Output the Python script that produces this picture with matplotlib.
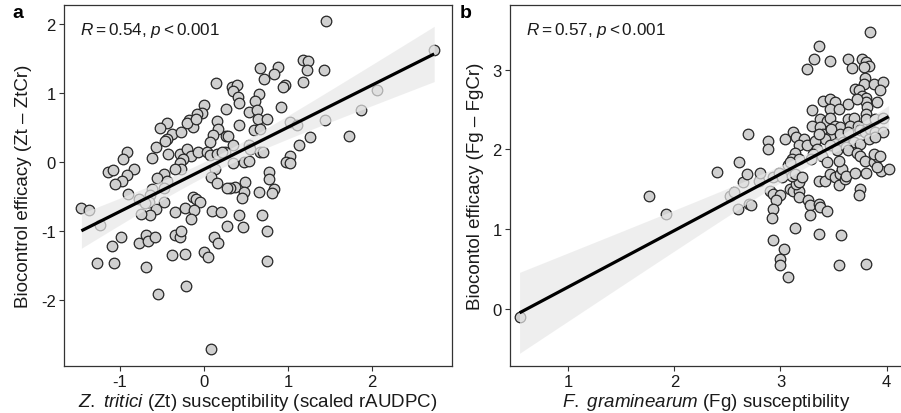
import numpy as np
import matplotlib
matplotlib.use("Agg")
import matplotlib.pyplot as plt

plt.rcParams["font.family"] = ["Liberation Sans", "DejaVu Sans"]
plt.rcParams["mathtext.fontset"] = "custom"
plt.rcParams["mathtext.rm"] = "Liberation Sans"
plt.rcParams["mathtext.it"] = "Liberation Sans:italic"
plt.rcParams["axes.unicode_minus"] = False

# Panel a: Z. tritici susceptibility vs biocontrol efficacy
zt_susc = [1.45, 2.74, 1.18, 1.24, 1.23, 1.43, 0.67, 0.88, 0.83, 0.71,
           0.14, 0.33, 0.39, 0.35, 1.18, 0.96, 0.94, 0.65, 0.41, 0.42,
           0.61, 2.06, 0.92, 0.26, 0.53, 0.63, 0.00, -0.02, -0.08, 1.87,
           -0.18, -0.13, -0.20, -0.09, 0.42, 0.64, 0.75, 0.15, 0.17, 0.59,
           0.67, 1.02, 1.11, 1.44, -0.44, -0.52, -0.38, -0.27, -0.44, -0.57,
           -0.46, 0.26, 0.11, 0.07, 0.29, 0.34, 0.54, 0.55, 1.26, 1.72,
           1.13, -0.62, -0.43, -0.29, -0.20, -0.15, -0.25, -0.29, -0.27, -0.35,
           -0.07, 0.03, 0.07, 0.15, 0.25, 0.21, -0.92, -0.97, -0.83, -0.92,
           -0.98, -1.06, -1.14, -1.08, 0.67, 0.70, 0.34, 0.47, 0.53, 1.02,
           0.98, 1.02, 0.13, 0.08, 0.15, -0.48, -0.56, -0.44, -0.91, -0.62,
           -0.48, -0.64, -0.66, -0.78, -0.70, -0.48, -0.57, -0.64, -0.75, 0.77,
           0.77, 0.83, 0.81, 0.49, 0.37, 0.31, 0.27, 0.47, 0.45, 0.65,
           -0.35, -0.23, -0.13, -0.10, -0.05, -0.12, -0.15, 0.09, 0.20, 0.42,
           0.69, -1.46, -1.37, -1.24, 0.27, 0.46, 0.75, -0.99, -1.09, -0.78,
           -0.69, -0.67, -0.58, -0.35, -0.29, -0.27, 0.12, 0.17, -0.38, -0.23,
           0.00, 0.05, -1.27, -1.07, -0.69, 0.75, -0.22, -0.55, 0.08]
zt_eff = [2.04, 1.62, 1.48, 1.46, 1.33, 1.33, 1.36, 1.38, 1.27, 1.20,
          1.14, 1.08, 1.12, 1.03, 1.16, 1.11, 1.09, 0.99, 0.94, 0.85,
          0.88, 1.05, 0.80, 0.77, 0.72, 0.76, 0.83, 0.71, 0.70, 0.76,
          0.61, 0.51, 0.57, 0.63, 0.54, 0.62, 0.62, 0.59, 0.48, 0.47,
          0.48, 0.58, 0.53, 0.61, 0.57, 0.50, 0.41, 0.44, 0.34, 0.22,
          0.31, 0.38, 0.39, 0.29, 0.37, 0.24, 0.25, 0.19, 0.36, 0.38,
          0.24, 0.06, 0.12, 0.12, 0.19, 0.09, 0.05, -0.02, -0.10, -0.10,
          0.14, 0.14, 0.10, 0.12, 0.14, 0.14, 0.14, 0.04, -0.10, -0.19,
          -0.27, -0.32, -0.14, -0.12, 0.15, 0.15, -0.01, 0.00, 0.01, 0.09,
          0.00, -0.01, -0.10, -0.22, -0.31, -0.17, -0.23, -0.27, -0.46, -0.39,
          -0.38, -0.48, -0.58, -0.53, -0.60, -0.58, -0.68, -0.77, -0.76, -0.14,
          -0.24, -0.39, -0.45, -0.29, -0.36, -0.37, -0.37, -0.43, -0.52, -0.43,
          -0.72, -0.67, -0.51, -0.53, -0.58, -0.70, -0.82, -0.71, -0.73, -0.77,
          -0.77, -0.66, -0.69, -0.91, -0.93, -0.94, -1.00, -1.08, -1.22, -1.18,
          -1.06, -1.14, -1.09, -1.06, -1.09, -1.00, -1.08, -1.17, -1.35, -1.34,
          -1.31, -1.37, -1.47, -1.46, -1.52, -1.44, -1.80, -1.91, -2.71]

# Panel b: F. graminearum susceptibility vs biocontrol efficacy
fg_susc = [0.54, 1.76, 1.92, 2.40, 2.52, 2.56, 2.60, 2.61, 2.65, 2.68,
           2.69, 2.70, 2.72, 2.80, 2.81, 2.88, 2.88, 3.04,
           2.93, 2.99, 3.01, 2.90, 2.93, 3.00, 2.96, 2.93, 2.92,
           3.09, 3.12, 3.17, 3.17, 3.15, 3.17, 3.11, 3.14, 3.20,
           3.26, 3.28, 3.36, 3.37, 3.44, 3.28, 3.36, 3.42,
           3.47, 3.51, 3.56, 3.58, 3.55, 3.61, 3.62, 3.70, 3.75, 3.74,
           3.81, 3.95, 4.02,
           3.14, 2.93, 3.03, 3.00, 3.00, 3.07, 3.36, 3.57, 3.55, 3.81,
           3.84, 3.36, 3.25, 3.32, 3.47, 3.64, 3.67, 3.77, 3.81, 3.83,
           3.79, 3.80, 3.79, 3.88, 3.97, 3.94, 3.70, 3.74, 3.77, 3.81,
           3.81, 3.82, 3.81, 3.81,
           3.40, 3.47, 3.51, 3.47, 3.55, 3.64, 3.72, 3.30, 3.91, 3.89, 3.97,
           3.37, 3.44, 3.47, 3.51, 3.56, 3.64, 3.69, 3.66, 3.30, 3.37,
           3.73, 3.75, 3.80, 3.84,
           3.40, 3.47, 3.48, 3.56, 3.64, 3.89, 3.97, 3.51, 3.59, 3.69,
           3.75, 3.83, 3.89, 3.42, 3.47, 3.53,
           3.12, 3.15, 3.22, 3.17, 3.25, 3.33, 3.36, 3.34, 3.31, 3.39,
           3.62, 3.64, 3.72, 3.75, 3.80, 3.88, 3.92, 3.91,
           3.14, 3.11, 3.17, 3.29, 3.44, 3.55, 3.88, 3.94, 3.07, 3.09]
fg_eff = [-0.10, 1.41, 1.19, 1.72, 1.41, 1.47, 1.25, 1.84, 1.59, 1.69,
          2.19, 1.32, 1.30, 1.61, 1.70, 2.10, 2.01, 2.13,
          1.65, 1.71, 1.65, 1.48, 1.44, 1.43, 1.36, 1.25, 1.14,
          1.50, 1.48, 1.48, 1.40, 1.57, 1.59, 1.67, 1.69, 1.66,
          1.36, 1.30, 1.32, 1.28, 1.23, 1.18, 1.61, 1.61,
          1.69, 1.66, 1.69, 1.76, 1.55, 1.63, 1.67, 1.71, 1.51, 1.43,
          1.71, 1.73, 1.76,
          1.02, 0.87, 0.75, 0.63, 0.55, 0.40, 0.94, 0.93, 0.55, 0.56,
          3.47, 3.30, 3.01, 3.14, 3.11, 3.14, 3.02, 3.13, 3.10, 3.05,
          3.03, 2.90, 2.82, 2.82, 2.84, 2.74, 2.76, 2.75, 2.67, 2.64,
          2.59, 2.53, 2.45, 2.38,
          2.61, 2.63, 2.60, 2.51, 2.51, 2.57, 2.63, 2.50, 2.59, 2.38, 2.40,
          2.38, 2.36, 2.40, 2.30, 2.28, 2.38, 2.40, 2.30, 2.30, 2.28,
          2.30, 2.24, 2.22, 2.26,
          2.19, 2.17, 2.26, 2.19, 2.22, 2.22, 2.22, 2.07, 2.09, 2.09,
          2.07, 2.13, 2.15, 2.13, 2.05, 1.99,
          2.22, 2.15, 2.13, 2.06, 2.06, 2.11, 2.19, 2.01, 1.94, 1.92,
          2.03, 1.99, 1.96, 1.92, 1.86, 1.84, 1.90, 1.78,
          1.96, 1.88, 1.88, 1.88, 1.84, 1.85, 1.94, 1.92, 1.80, 1.84]

POINT_FILL = "#d0d0d0"
EDGE = "#262626"
SPINE = "#333333"
TEXT = "#1a1a1a"
T95 = 1.975


def panel(ax, x, y, xlim, ylim, xticks, yticks, xlabel, ylabel, stat):
    x = np.asarray(x, float)
    y = np.asarray(y, float)
    ax.scatter(x, y, s=58, facecolor=POINT_FILL, edgecolor=EDGE,
               linewidth=0.9, zorder=2)

    # least-squares fit with 95% confidence band
    n = len(x)
    slope, intercept = np.polyfit(x, y, 1)
    resid = y - (slope * x + intercept)
    s = np.sqrt(np.sum(resid ** 2) / (n - 2))
    xs = np.linspace(x.min(), x.max(), 200)
    fit = slope * xs + intercept
    se = s * np.sqrt(1.0 / n + (xs - x.mean()) ** 2 / np.sum((x - x.mean()) ** 2))
    ax.fill_between(xs, fit - T95 * se, fit + T95 * se, color="#e8e8e8",
                    alpha=0.7, linewidth=0, zorder=3)
    ax.plot(xs, fit, color="black", linewidth=2.3, zorder=4,
            solid_capstyle="butt")

    ax.set_xlim(*xlim)
    ax.set_ylim(*ylim)
    ax.set_xticks(xticks)
    ax.set_yticks(yticks)
    ax.set_xticklabels([f"{t:g}" for t in xticks])
    ax.set_yticklabels([f"{t:g}" for t in yticks])
    for sp in ax.spines.values():
        sp.set_color(SPINE)
        sp.set_linewidth(0.9)
    ax.tick_params(direction="out", length=3.5, width=0.8, color=SPINE,
                   labelsize=12, labelcolor=TEXT, pad=2.5)
    ax.set_xlabel(xlabel, fontsize=13.5, color=TEXT, labelpad=1)
    ax.set_ylabel(ylabel, fontsize=13.5, color=TEXT, labelpad=6)
    ax.text(0.04, 0.93, stat, transform=ax.transAxes, fontsize=12.3,
            color=TEXT, ha="left", va="center")


W, H = 901, 414
fig = plt.figure(figsize=(W / 100, H / 100), dpi=100)

ax_a = fig.add_axes([64 / W, (H - 367) / H, (452 - 64) / W, (367 - 5.5) / H])
ax_b = fig.add_axes([510 / W, (H - 367) / H, (903 - 510) / W, (367 - 5.5) / H])

panel(ax_a, zt_susc, zt_eff, (-1.667, 2.952), (-2.957, 2.283),
      [-1, 0, 1, 2], [-2, -1, 0, 1, 2],
      r"$\mathit{Z.\ tritici}$ (Zt) susceptibility (scaled rAUDPC)",
      "Biocontrol efficacy (Zt \u2013 ZtCr)",
      r"$\mathit{R} = 0.54{,}\ \mathit{p} < 0.001$")
panel(ax_b, fg_susc, fg_eff, (0.450, 4.155), (-0.715, 3.817),
      [1, 2, 3, 4], [0, 1, 2, 3],
      r"$\mathit{F.\ graminearum}$ (Fg) susceptibility",
      "Biocontol efficacy (Fg \u2013 FgCr)",
      r"$\mathit{R} = 0.57{,}\ \mathit{p} < 0.001$")

fig.text(12 / W, 1 - 14 / H, "a", fontsize=14, fontweight="bold",
         color="black", ha="left", va="center")
fig.text(460 / W, 1 - 14 / H, "b", fontsize=14, fontweight="bold",
         color="black", ha="left", va="center")

fig.savefig("out.png", dpi=100)
